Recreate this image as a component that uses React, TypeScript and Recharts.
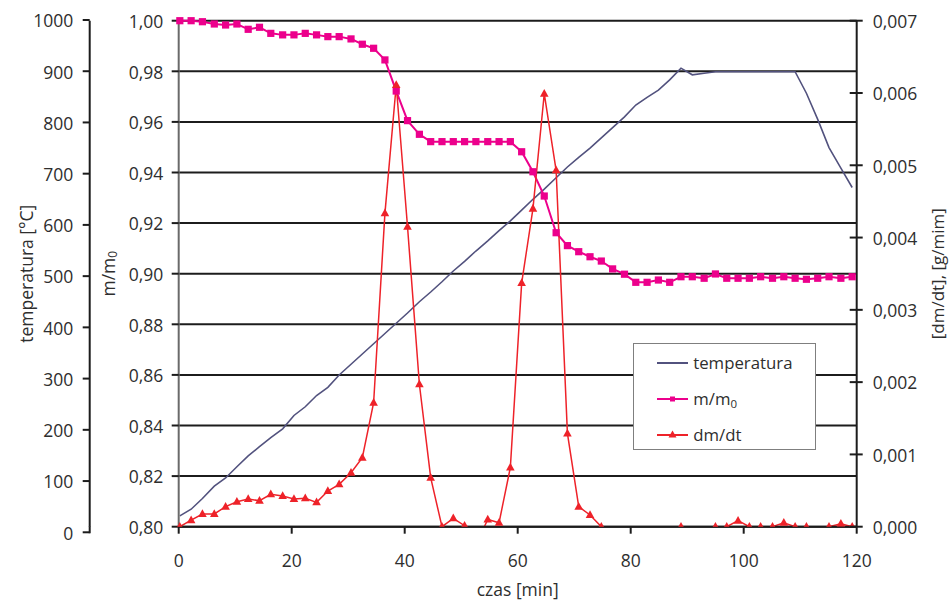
import React from 'react';
import { ComposedChart, Line, XAxis, YAxis, CartesianGrid, Legend } from 'recharts';

const times = [0.2, 2.2, 4.2, 6.3, 8.3, 10.3, 12.3, 14.3, 16.3, 18.4,
  20.4, 22.4, 24.4, 26.4, 28.4, 30.5, 32.5, 34.5, 36.5, 38.5,
  40.5, 42.6, 44.6, 46.6, 48.6, 50.6, 52.6, 54.7, 56.7, 58.7,
  60.7, 62.7, 64.7, 66.8, 68.8, 70.8, 72.8, 74.8, 76.8, 78.9,
  80.9, 82.9, 84.9, 86.9, 88.9, 90.9, 93.0, 95.0, 97.0, 99.0,
  101.0, 103.0, 105.1, 107.1, 109.1, 111.1, 113.1, 115.1, 117.2, 119.2];

const temperatura = [32, 45, 66, 90, 106, 128, 149, 167, 185, 202,
  228, 245, 267, 283, 307, 328, 348, 368, 388, 408,
  428, 450, 469, 489, 510, 529, 549, 569, 589, 608,
  629, 650, 670, 692, 713, 732, 750, 770, 790, 811,
  834, 849, 863, 883, 906, 893, 896, 899, 899, 899,
  899, 899, 899, 899, 899, 857, 806, 751, 711, 673];

const masa = [1.0, 1.0, 0.9996, 0.9987, 0.9983, 0.9987, 0.9966, 0.9974, 0.995, 0.9944,
  0.9944, 0.995, 0.9944, 0.9937, 0.9937, 0.9928, 0.9907, 0.9891, 0.9845, 0.9722,
  0.9605, 0.9551, 0.9522, 0.9522, 0.9522, 0.9522, 0.9522, 0.9522, 0.9522, 0.9522,
  0.9482, 0.9403, 0.9307, 0.9162, 0.9111, 0.9087, 0.9067, 0.905, 0.9019, 0.8998,
  0.8966, 0.8966, 0.8975, 0.8966, 0.8988, 0.8988, 0.8982, 0.8999, 0.8982, 0.8982,
  0.8982, 0.8988, 0.8982, 0.8988, 0.8982, 0.8978, 0.8982, 0.8988, 0.8982, 0.8988];

const dmdt = [0, 0.00009, 0.000176, 0.000176, 0.000277, 0.000346, 0.000383, 0.00036, 0.000448, 0.000425,
  0.000383, 0.000393, 0.000337, 0.000494, 0.000586, 0.000747, 0.000954, 0.001715, 0.004335, 0.00611,
  0.00415, 0.00197, 0.000678, 0, 0.000116, 0.000014, -0.00025, 0.0001, 0.000055, 0.00082,
  0.00337, 0.0044, 0.00599, 0.00493, 0.00129, 0.000277, 0.000162, 0, -0.0004, -0.0004,
  -0.0004, -0.0004, -0.0004, -0.0004, 0, -0.00015, -0.00004, 0, 0, 0.000083,
  0, 0, 0, 0.000055, 0, 0, -0.00003, 0, 0.00004, 0];

const xTicks = [0, 20, 40, 60, 80, 100, 120];
const tempTicks = [0, 100, 200, 300, 400, 500, 600, 700, 800, 900, 1000];
const massTicks = [0.8, 0.82, 0.84, 0.86, 0.88, 0.9, 0.92, 0.94, 0.96, 0.98, 1.0];
const rateTicks = [0, 0.001, 0.002, 0.003, 0.004, 0.005, 0.006, 0.007];

const data = times.map((t, i) => ({ t, temp: temperatura[i], m: masa[i], d: dmdt[i] }));

const FONT = "'Open Sans', 'DejaVu Sans', sans-serif";
const TEXT = '#2e2e2e';
const C_TEMP = '#52527e';
const C_M = '#ec008c';
const C_D = '#ee2229';
const DARK = '#1c1c1c';

const fmt = (v: number, d: number) => v.toFixed(d).replace('.', ',');

const TempTick = (props: any) => {
  const { x, y, payload } = props;
  const ax = x + 16.4;
  return (
    <g>
      {payload.value === 0 && <line x1={ax} x2={ax} y1={y - 6} y2={y + 1} stroke={DARK} strokeWidth={2} />}
      <text x={x} y={y} dy={7.3} textAnchor="end" fontSize={17.5} fontFamily={FONT} fill={TEXT}>
        {String(payload.value)}
      </text>
    </g>
  );
};

const MassTick = (props: any) => {
  const { x, y, payload } = props;
  return (
    <text x={x} y={y} dy={7.3} textAnchor="end" fontSize={17.5} fontFamily={FONT} fill={TEXT}>
      {fmt(payload.value, 2)}
    </text>
  );
};

const RateTick = (props: any) => {
  const { x, y, payload } = props;
  const ax = x - 16;
  return (
    <g>
      <line x1={ax - 7} x2={ax + 6} y1={y} y2={y} stroke={DARK} strokeWidth={2} />
      <text x={x} y={y} dy={7.3} textAnchor="start" fontSize={17.5} fontFamily={FONT} fill={TEXT}>
        {fmt(payload.value, 3)}
      </text>
    </g>
  );
};

const TimeTick = (props: any) => {
  const { x, y, payload } = props;
  return (
    <text x={x} y={y} dy={32.8} textAnchor="middle" fontSize={17.5} fontFamily={FONT} fill={TEXT}>
      {String(payload.value)}
    </text>
  );
};

const TempTitle = (props: any) => {
  const vb = props.viewBox || { x: 0, y: 20.7, width: 89.7, height: 506 };
  const cx = vb.x + 26;
  const cy = vb.y + vb.height / 2;
  return (
    <text x={cx} y={cy} transform={`rotate(-90 ${cx} ${cy})`} textAnchor="middle" dominantBaseline="central"
      fontSize={17.5} fontFamily={FONT} fill={TEXT}>
      temperatura [°C]
    </text>
  );
};

const MassTitle = (props: any) => {
  const vb = props.viewBox || { x: 89.7, y: 20.7, width: 89, height: 506 };
  const cx = vb.x + 18;
  const cy = vb.y + vb.height / 2;
  return (
    <text x={cx} y={cy} transform={`rotate(-90 ${cx} ${cy})`} textAnchor="middle" dominantBaseline="central"
      fontSize={17.5} fontFamily={FONT} fill={TEXT}>
      m/m<tspan dy={4} fontSize={12}>0</tspan>
    </text>
  );
};

const RateTitle = (props: any) => {
  const vb = props.viewBox || { x: 856.7, y: 20.7, width: 93.3, height: 506 };
  const cx = vb.x + 80.5;
  const cy = vb.y + vb.height / 2;
  return (
    <text x={cx} y={cy} transform={`rotate(-90 ${cx} ${cy})`} textAnchor="middle" dominantBaseline="central"
      fontSize={17} fontFamily={FONT} fill={TEXT}>
      [dm/dt], [g/mim]
    </text>
  );
};

const TimeTitle = (props: any) => {
  const vb = props.viewBox || { x: 178.7, y: 526.7, width: 678, height: 75.3 };
  const cx = vb.x + vb.width / 2;
  return (
    <text x={cx} y={vb.y + 69} textAnchor="middle" fontSize={17.5} fontFamily={FONT} fill={TEXT}>
      czas [min]
    </text>
  );
};

const SquareDot = (props: any) => {
  const { cx, cy, index } = props;
  if (cx == null || cy == null) return <g key={`s${index}`} />;
  return <rect key={`s${index}`} x={cx - 3.6} y={cy - 3.6} width={7.2} height={7.2} fill={C_M} />;
};

const TriDot = (props: any) => {
  const { cx, cy, index, payload } = props;
  if (cx == null || cy == null || (payload && payload.d < 0)) return <g key={`t${index}`} />;
  return (
    <path key={`t${index}`} d={`M${cx},${cy - 4.8} L${cx + 4.3},${cy + 3} L${cx - 4.3},${cy + 3} Z`} fill={C_D} />
  );
};

const legendItems = [
  { name: 'temperatura', sub: '', color: C_TEMP, marker: 'none' },
  { name: 'm/m', sub: '0', color: C_M, marker: 'square' },
  { name: 'dm/dt', sub: '', color: C_D, marker: 'triangle' },
];

const LegendBox = () => (
  <div style={{
    width: 183, height: 107, boxSizing: 'border-box', border: '1.5px solid #7f7f7f', background: '#fff',
    position: 'relative', fontFamily: FONT, fontSize: 16.8, color: TEXT,
  }}>
    {legendItems.map((it, i) => (
      <div key={it.name} style={{
        position: 'absolute', left: 23.5, top: 18.5 + i * 36.2 - 12, height: 24,
        display: 'flex', alignItems: 'center', whiteSpace: 'nowrap',
      }}>
        <svg width={31} height={12} style={{ display: 'block' }}>
          <line x1={0} x2={31} y1={6} y2={6} stroke={it.color} strokeWidth={2} />
          {it.marker === 'square' && <rect x={13} y={3.5} width={5} height={5} fill={it.color} />}
          {it.marker === 'triangle' && <path d="M15.5,1.5 L19.5,8.5 L11.5,8.5 Z" fill={it.color} />}
        </svg>
        <span style={{ marginLeft: 5, lineHeight: '24px' }}>
          {it.name}
          {it.sub && <sub style={{ fontSize: 11.5, verticalAlign: '-3px', lineHeight: 0 }}>{it.sub}</sub>}
        </span>
      </div>
    ))}
  </div>
);

export default function App() {
  return (
    <div style={{ position: 'absolute', left: 0, top: 0, width: 950, height: 602, background: '#fff' }}>
      <ComposedChart width={950} height={602} data={data} margin={{ top: 20.7, right: 0, bottom: 0, left: 0 }}>
        <CartesianGrid yAxisId="m" vertical={false} stroke={DARK} strokeWidth={2} />
        <XAxis dataKey="t" type="number" domain={[0, 120]} ticks={xTicks} interval={0} height={75.3}
          axisLine={{ stroke: DARK, strokeWidth: 2 }} tickLine={{ stroke: DARK, strokeWidth: 2 }}
          tickSize={7} tickMargin={0} tick={TimeTick} label={TimeTitle} />
        <YAxis yAxisId="m" orientation="left" width={89} domain={[0.8, 1.0]} ticks={massTicks} interval={0}
          axisLine={{ stroke: '#6a6a6a', strokeWidth: 2 }} tickLine={{ stroke: DARK, strokeWidth: 2 }}
          tickSize={7} tickMargin={8.4} tick={MassTick} label={MassTitle} />
        <YAxis yAxisId="temp" orientation="left" width={89.7} domain={[10.9, 998.6]} allowDataOverflow
          ticks={tempTicks} interval={0}
          axisLine={{ stroke: DARK, strokeWidth: 2 }} tickLine={{ stroke: DARK, strokeWidth: 2 }}
          tickSize={7} tickMargin={9.4} tick={TempTick} label={TempTitle} />
        <YAxis yAxisId="r" orientation="right" width={93.3} domain={[0, 0.007]} allowDataOverflow
          ticks={rateTicks} interval={0}
          axisLine={{ stroke: DARK, strokeWidth: 2 }} tickLine={false}
          tickSize={6} tickMargin={10} tick={RateTick} label={RateTitle} />
        <Line yAxisId="temp" dataKey="temp" type="linear" stroke={C_TEMP} strokeWidth={1.6} dot={false}
          isAnimationActive={false} />
        <Line yAxisId="m" dataKey="m" type="linear" stroke={C_M} strokeWidth={2} dot={SquareDot}
          activeDot={false} isAnimationActive={false} />
        <Line yAxisId="r" dataKey="d" type="linear" stroke={C_D} strokeWidth={1.5} dot={TriDot}
          activeDot={false} isAnimationActive={false} />
        <Legend layout="vertical" align="center" verticalAlign="middle"
          wrapperStyle={{ left: 632.7, top: 343.3, width: 183, height: 107 }} content={LegendBox} />
      </ComposedChart>
    </div>
  );
}
